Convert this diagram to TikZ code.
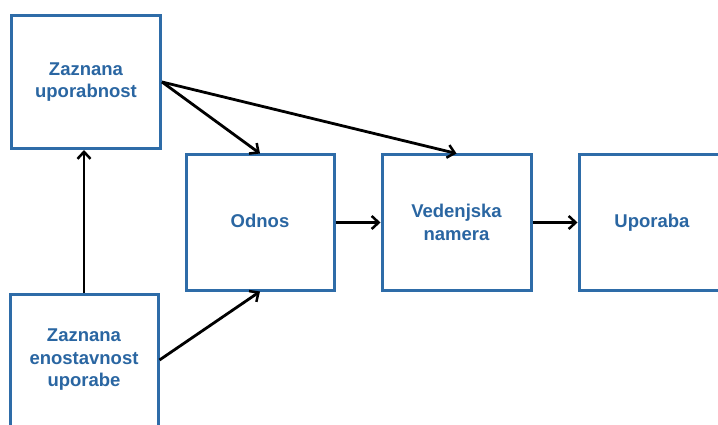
\documentclass[tikz,border=0pt]{standalone}
\usepackage{fontspec}
\setmainfont{Liberation Sans}
\usetikzlibrary{arrows.meta}
\definecolor{boxblue}{RGB}{46,108,168}
\definecolor{txtblue}{RGB}{42,102,162}
\tikzset{
  box/.style={draw=boxblue, line width=3pt, fill=white, inner sep=0pt,
    align=center, font=\fontsize{18.5}{22.5}\selectfont\bfseries, text=txtblue},
  conn/.style={draw=black, line width=2.8pt, -{Straight Barb[length=7pt,width=13pt,line width=2.5pt]}}
}
\begin{document}
\begin{tikzpicture}[x=1pt,y=-1pt]
\useasboundingbox (0,0) rectangle (718,425);
\clip (0,0) rectangle (718,425);
\node[box, minimum width=149pt, minimum height=133pt] (A) at (86,82) {Zaznana\\uporabnost};
\node[box, minimum width=148pt, minimum height=135pt] (O) at (260,222.5) {\raisebox{3pt}{Odnos}};
\node[box, minimum width=149pt, minimum height=135pt] (V) at (456.5,222.5) {Vedenjska\\namera};
\node[box, minimum width=146pt, minimum height=135pt] (U) at (652,222.5) {Uporaba};
\node[box, minimum width=148pt, minimum height=132pt] (E) at (84,360) {Zaznana\\enostavnost\\uporabe};
\draw[conn] (A.east) -- (O.north);
\draw[conn] (A.east) -- (V.north);
\draw[conn] (E.north) -- (E.north |- A.south);
\draw[conn] (E.east) -- (O.south);
\draw[conn] (O.east) -- (V.west);
\draw[conn] (V.east) -- (U.west);
\end{tikzpicture}
\end{document}
